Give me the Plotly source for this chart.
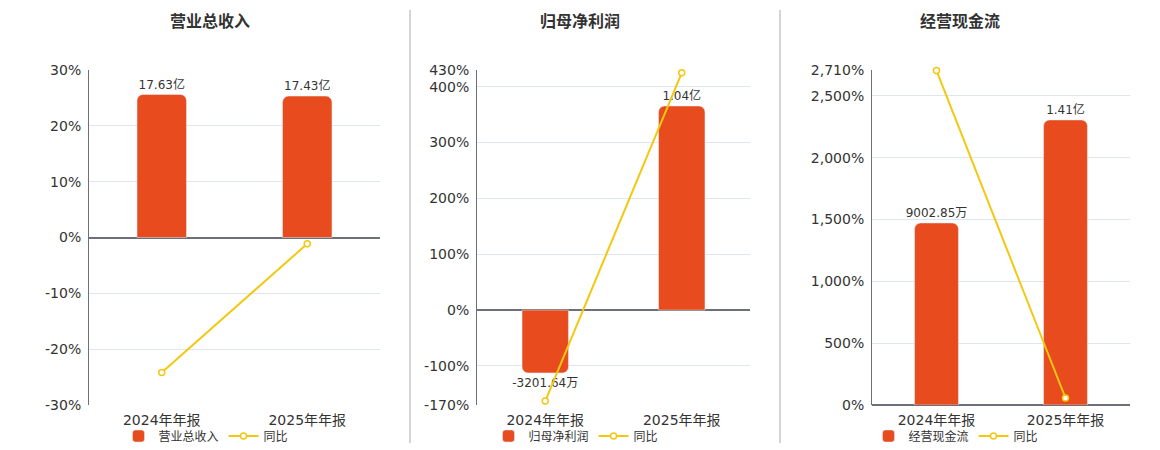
import plotly.graph_objects as go

years = ['2024年年报', '2025年年报']
titles = ['营业总收入', '归母净利润', '经营现金流']

# bar values in 亿, labels as shown on the chart
rev = [17.63, 17.43]
net_profit = [-0.320164, 1.04]
cashflow = [0.900285, 1.41]
rev_text = ['17.63亿', '17.43亿']
np_text = ['-3201.64万', '1.04亿']
cf_text = ['9002.85万', '1.41亿']

# 同比 (%)
rev_yoy = [-24.2, -1.13]
np_yoy = [-163.0, 425.0]
cf_yoy = [2705.0, 56.6]

# percent axis ticks
rev_ticks = [-30, -20, -10, 0, 10, 20, 30]
np_ticks = [-170, -100, 0, 100, 200, 300, 400, 430]
cf_ticks = [0, 500, 1000, 1500, 2000, 2500, 2710]

BAR = '#E84C1E'
LINE = '#F2C811'
FONT = 'DejaVu Sans, Noto Sans CJK SC, sans-serif'

# page renders with an 8px body margin, so place things in page pixels
W, H, OFF = 1160, 450, 8


def px_x(x):
    return (x - OFF) / W


def px_y(y):
    return 1 - (y - OFF) / H


panels = [
    (rev, rev_text, rev_yoy, rev_ticks, 20.65, (89, 380), 206),
    (net_profit, np_text, np_yoy, np_ticks, 1.2235, (477, 750), 576),
    (cashflow, cf_text, cf_yoy, cf_ticks, 1.657, (872, 1130), 956),
]
title_px = [210, 580, 960]

fig = go.Figure()
layout = dict(
    width=W, height=H,
    margin=dict(l=0, r=0, t=0, b=0, autoexpand=False),
    paper_bgcolor='white', plot_bgcolor='white',
    font=dict(family=FONT, color='#333'),
    barcornerradius=6,
    bargap=0.66,
    showlegend=True,
)
ydom = [px_y(405), px_y(70)]

for i, (vals, txt, yoy, ticks, bmax, dom, lx) in enumerate(panels):
    n = i + 1
    xa = 'x' if n == 1 else f'x{n}'
    yb = 'y' if n == 1 else f'y{n}'
    yl = f'y{n + 3}'
    leg = 'legend' if n == 1 else f'legend{n}'
    pmin, pmax = ticks[0], ticks[-1]
    bmin = bmax * pmin / pmax

    fig.add_trace(go.Bar(
        x=years, y=vals, name=titles[i], marker_color=BAR,
        text=txt, textposition='outside', cliponaxis=False,
        constraintext='none',
        textfont=dict(size=12, color='#333'),
        xaxis=xa, yaxis=yb, legend=leg,
    ))
    fig.add_trace(go.Scatter(
        x=years, y=yoy, name='同比', mode='lines+markers',
        line=dict(color=LINE, width=2),
        marker=dict(size=6, color='white', line=dict(color=LINE, width=1.5)),
        cliponaxis=False,
        xaxis=xa, yaxis=yl, legend=leg,
    ))

    xkey = 'xaxis' if n == 1 else f'xaxis{n}'
    layout[xkey] = dict(
        domain=[px_x(dom[0]), px_x(dom[1])], anchor=yb,
        showgrid=False, showline=False,
        tickfont=dict(size=14, color='#333'), ticks='',
        ticklabelstandoff=5,
    )
    ybkey = 'yaxis' if n == 1 else f'yaxis{n}'
    layout[ybkey] = dict(
        domain=ydom, anchor=xa, range=[bmin, bmax],
        showgrid=False, zeroline=False, showticklabels=False, showline=False,
    )
    layout[f'yaxis{n + 3}'] = dict(
        domain=ydom, anchor=xa, overlaying=yb, side='left',
        range=[pmin, pmax], tickvals=ticks,
        ticktext=[f'{t:,}%' for t in ticks],
        tickfont=dict(size=14, color='#333'),
        showgrid=True, gridcolor='#E0E6F1', gridwidth=1,
        zeroline=True, zerolinecolor='#6E7079', zerolinewidth=2,
        showline=True, linecolor='#6E7079', linewidth=1,
        ticks='', ticklabelstandoff=4,
    )
    layout[leg] = dict(
        orientation='h', x=px_x(lx), xanchor='center',
        y=px_y(436), yanchor='middle',
        font=dict(size=12, color='#333'), bgcolor='rgba(0,0,0,0)',
        itemwidth=30, tracegroupgap=0,
    )

fig.update_layout(**layout)

for i, t in enumerate(titles):
    fig.add_annotation(
        text=f'<b>{t}</b>', x=px_x(title_px[i]), y=px_y(22),
        xref='paper', yref='paper', xanchor='center', yanchor='middle',
        showarrow=False, font=dict(size=16, color='#333'),
    )

# panel dividers
for xd in [410, 780]:
    fig.add_shape(type='line', xref='paper', yref='paper',
                  x0=px_x(xd), x1=px_x(xd), y0=px_y(10), y1=px_y(443),
                  line=dict(color='#AAAAAA', width=1))

fig.write_html('out.html')
